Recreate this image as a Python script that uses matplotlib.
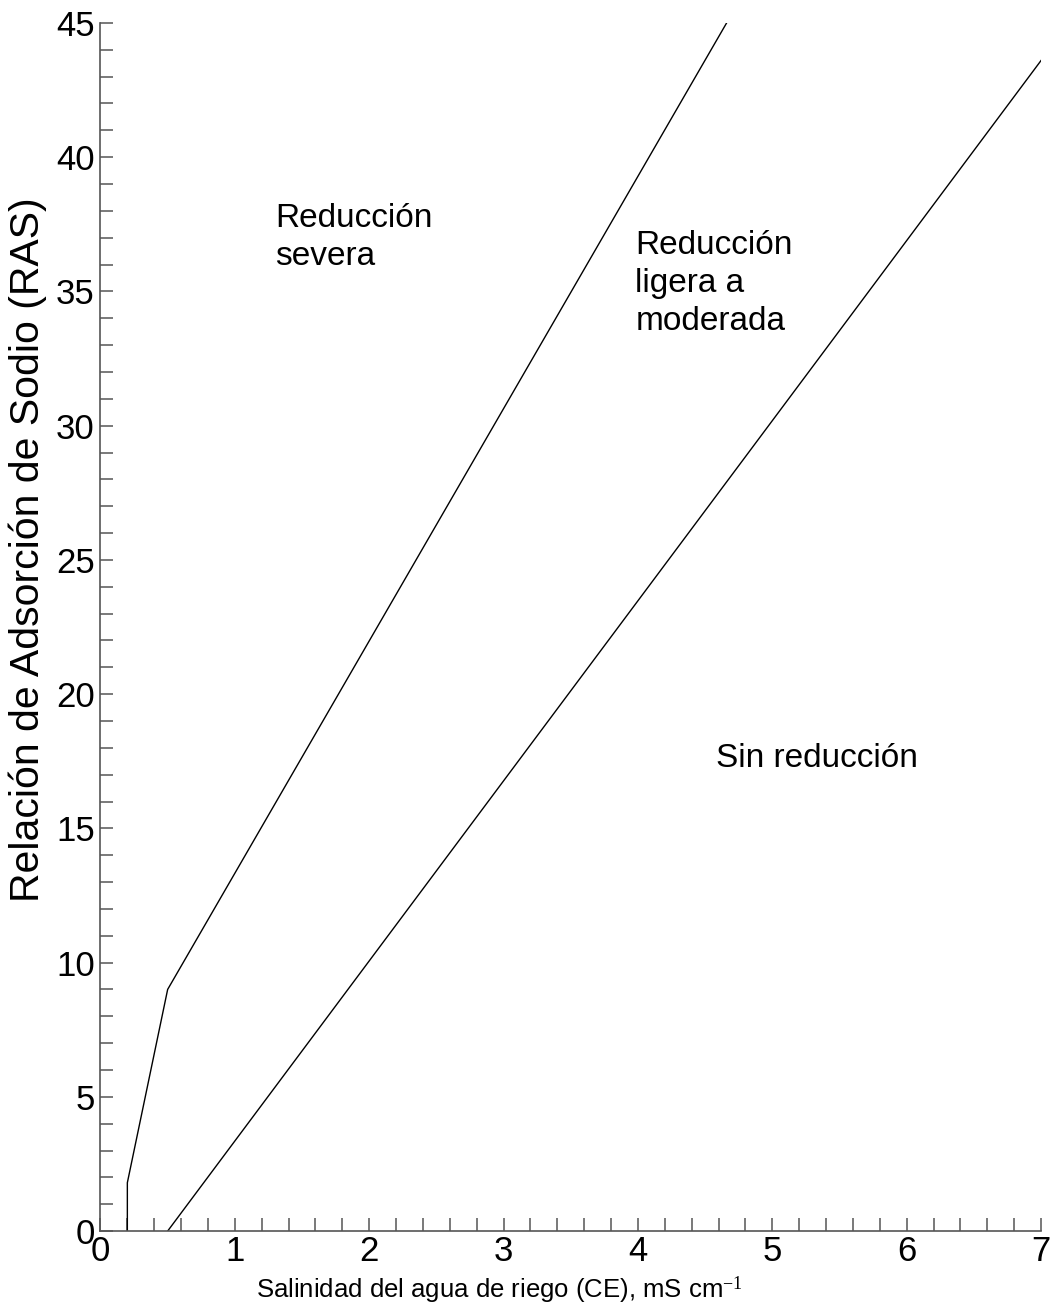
import numpy as np
import matplotlib.pyplot as plt
from matplotlib.ticker import MultipleLocator

plt.rcParams['font.family'] = ['Liberation Sans', 'DejaVu Sans']
plt.rcParams['mathtext.fontset'] = 'custom'
plt.rcParams['mathtext.rm'] = 'Liberation Serif'
plt.rcParams['mathtext.it'] = 'Liberation Serif'

# límites de las zonas (CE en mS/cm, RAS)
ce_severa = [0.2, 0.2, 0.5, 4.66]
ras_severa = [0.0, 1.8, 9.0, 45.0]
ce_ligera = [0.5, 7.0]
ras_ligera = [0.0, 43.6]

zonas = ['Reducción\nsevera', 'Reducción\nligera a\nmoderada', 'Sin reducción']
zonas_x = [1.30, 3.98, 4.58]
zonas_y = [38.3, 37.3, 17.6]

fig = plt.figure(figsize=(10.51, 13.12), dpi=100)
ax = fig.add_axes([0.0956, 0.0617, 0.8949, 0.9208])

ax.plot(ce_severa, ras_severa, color='black', lw=1.0)
ax.plot(ce_ligera, ras_ligera, color='black', lw=1.0)

for txt, x, y in zip(zonas, zonas_x, zonas_y):
    ax.text(x, y, txt, fontsize=24, ha='left', va='top' if '\n' in txt else 'center',
            linespacing=1.3)

ax.set_xlim(0, 7)
ax.set_ylim(0, 45)
ax.xaxis.set_major_locator(MultipleLocator(1))
ax.xaxis.set_minor_locator(MultipleLocator(0.2))
ax.yaxis.set_major_locator(MultipleLocator(5))
ax.yaxis.set_minor_locator(MultipleLocator(1))

ax.spines['top'].set_visible(False)
ax.spines['right'].set_visible(False)
for s in ['left', 'bottom']:
    ax.spines[s].set_color('#555555')
    ax.spines[s].set_linewidth(1.2)

ax.tick_params(which='both', direction='in', length=9.5, width=1.1, color='#555555')
ax.tick_params(axis='x', labelsize=25, pad=3)
ax.tick_params(axis='y', labelsize=25, pad=4)

ax.set_xlabel('Salinidad del agua de riego (CE), mS cm$^{-1}$', fontsize=18.5)
ax.xaxis.set_label_coords(0.424, -0.036)
ax.set_ylabel('Relación de Adsorción de Sodio (RAS)', fontsize=29.5)
ax.yaxis.set_label_coords(-0.057, 0.564)

fig.savefig('out.png', dpi=100)
